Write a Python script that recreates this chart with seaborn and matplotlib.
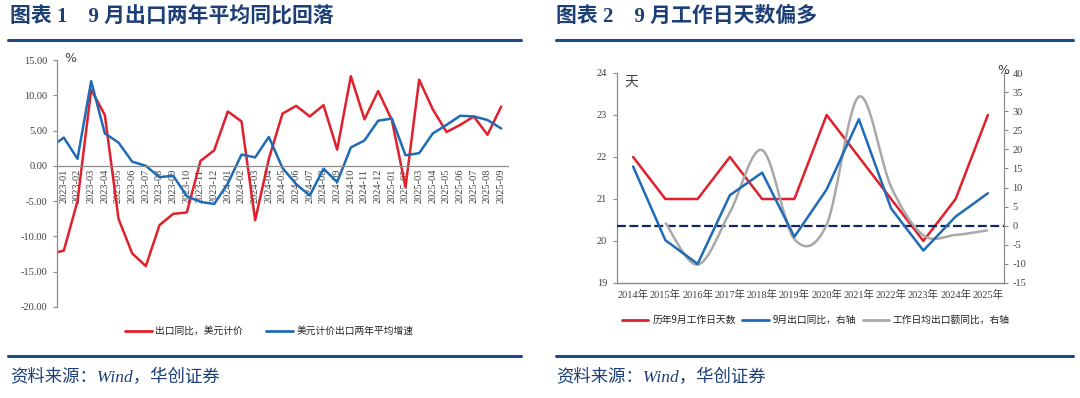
import numpy as np
import pandas as pd
import seaborn as sns
import matplotlib.pyplot as plt
from matplotlib.path import Path
from matplotlib.patches import PathPatch
from matplotlib.lines import Line2D

# ---- data, chart 1 (first entry 2022-12 sits just off the left edge)
months = ['2022-12',
          '2023-01', '2023-02', '2023-03', '2023-04', '2023-05', '2023-06',
          '2023-07', '2023-08', '2023-09', '2023-10', '2023-11', '2023-12',
          '2024-01', '2024-02', '2024-03', '2024-04', '2024-05', '2024-06',
          '2024-07', '2024-08', '2024-09', '2024-10', '2024-11', '2024-12',
          '2025-01', '2025-02', '2025-03', '2025-04', '2025-05', '2025-06',
          '2025-07', '2025-08', '2025-09']
export_yoy = [-12.5,
              -12.0, -5.0, 10.8, 7.2, -7.5, -12.4, -14.2, -8.4, -6.8, -6.6, 0.7, 2.2,
              7.7, 6.3, -7.7, 1.0, 7.4, 8.5, 7.0, 8.6, 2.3, 12.7, 6.6, 10.6,
              6.5, -3.0, 12.2, 8.0, 4.8, 5.8, 7.0, 4.4, 8.4]
export_2y_avg = [2.6,
                 4.0, 1.0, 12.0, 4.6, 3.3, 0.6, 0.0, -1.6, -1.4, -4.3, -5.1, -5.4,
                 -2.5, 1.6, 1.2, 4.1, -0.3, -2.6, -4.2, -0.4, -2.3, 2.6, 3.6, 6.4,
                 6.7, 1.5, 1.8, 4.6, 5.8, 7.1, 7.0, 6.5, 5.3]

# ---- data, chart 2
years = ['2014年', '2015年', '2016年', '2017年', '2018年', '2019年',
         '2020年', '2021年', '2022年', '2023年', '2024年', '2025年']
workdays = [22, 21, 21, 22, 21, 21, 23, 22, 21, 20, 21, 23]
sep_export_yoy = [15.5, -3.8, -10.0, 8.0, 13.9, -2.9, 9.5, 27.9, 4.5, -6.5, 2.4, 8.5]
per_day_yoy = [np.nan, 0.8, -10.2, 3.5, 19.8, -3.5, 0.3, 33.8, 10.2, -2.5, -2.4, -1.2]

RED = '#E0202B'
BLUE = '#1F6BB5'
GRAY = '#A8A8A8'
NAVY = '#1C3F75'
TXT = '#404040'
AX = '#8C8C8C'

sns.set_style('white')
plt.rcParams['font.family'] = ['Liberation Serif', 'Noto Sans CJK SC', 'DejaVu Sans']
plt.rcParams['axes.unicode_minus'] = False
CJK = ['Noto Sans CJK SC', 'DejaVu Sans']
SERIF_CJK = ['Liberation Serif', 'Noto Sans CJK SC']

W, H = 1080, 398
fig = plt.figure(figsize=(W / 100, H / 100), dpi=100)


def fx(px):
    return px / W


def fy(py):
    return 1 - py / H


# ---- headers, rules, sources
for x0, title in [(10, '图表 1    9 月出口两年平均同比回落'),
                  (556, '图表 2    9 月工作日天数偏多')]:
    fig.text(fx(x0), fy(17), title, fontsize=15, fontweight='bold', color=NAVY,
             family=SERIF_CJK, va='center', ha='left')
    fig.text(fx(x0), fy(378), '资料来源：Wind，华创证券', fontsize=12.5, style='italic',
             color=NAVY, family=SERIF_CJK, va='center', ha='left')
for x0, x1 in [(8, 521), (556, 1073)]:
    for yy in (39.5, 356):
        fig.add_artist(Line2D([fx(x0), fx(x1)], [fy(yy), fy(yy)], color='#1F4A85',
                              lw=2.2, transform=fig.transFigure))

# ---- chart 1
df1 = pd.DataFrame({'pos': np.arange(len(months)) - 1, 'month': months,
                    'yoy': export_yoy, 'avg2y': export_2y_avg})
ax = fig.add_axes([fx(57), fy(307), fx(508) - fx(57), fy(60) - fy(307)])
sns.lineplot(data=df1, x='pos', y='yoy', ax=ax, color=RED, lw=1.8)
sns.lineplot(data=df1, x='pos', y='avg2y', ax=ax, color=BLUE, lw=1.8)
ax.set_xlim(-0.5, len(months) - 1.5)
ax.set_ylim(-20, 15)
ax.set_xlabel('')
ax.set_ylabel('')
sns.despine(ax=ax)
ax.spines['bottom'].set_position(('data', 0))
for s in ('left', 'bottom'):
    ax.spines[s].set_color(AX)
    ax.spines[s].set_linewidth(0.9)
ax.set_xticks(df1['pos'][1:])
ax.set_xticklabels(df1['month'][1:], rotation=90, fontsize=7.5, color=TXT)
ax.set_xticks(np.arange(-0.5, len(months) - 1, 1), minor=True)
ax.tick_params(axis='x', which='major', length=0, pad=2)
ax.tick_params(axis='x', which='minor', length=3, color=AX, width=0.8, direction='out')
ax.set_yticks(np.arange(-20, 16, 5))
ax.yaxis.set_major_formatter('{x:.2f}')
ax.tick_params(axis='y', length=3, color=AX, width=0.8, direction='out', labelsize=7.5,
               labelcolor=TXT, pad=4, left=True)
fig.text(fx(64), fy(58), '%', fontsize=9, color=TXT, family=['DejaVu Sans'],
         va='center', ha='left')

h1 = [Line2D([], [], color=RED, lw=2), Line2D([], [], color=BLUE, lw=2)]
fig.legend(h1, ['出口同比，美元计价', '美元计价出口两年平均增速'], loc='center',
           bbox_to_anchor=(fx(269), fy(331)), ncol=2, frameon=False,
           prop={'family': CJK, 'size': 7}, handlelength=2.8, handletextpad=0.3,
           columnspacing=2.4, labelcolor='#222222')

# ---- chart 2
df2 = pd.DataFrame({'pos': np.arange(len(years)), 'year': years, 'days': workdays,
                    'yoy': sep_export_yoy, 'perday': per_day_yoy})
bx = fig.add_axes([fx(617), fy(283), fx(1004) - fx(617), fy(73) - fy(283)])
bx2 = bx.twinx()
bx2.axhline(0, color='#13275A', lw=1.6, ls=(0, (4, 1.6)), zorder=1)
sns.lineplot(data=df2, x='pos', y='days', ax=bx, color=RED, lw=1.8, zorder=3)
sns.lineplot(data=df2, x='pos', y='yoy', ax=bx2, color=BLUE, lw=1.8, zorder=3)

# smoothed line (Excel style curve through the points)
pts = df2.dropna(subset=['perday'])[['pos', 'perday']].to_numpy(dtype=float)
verts = [pts[0]]
codes = [Path.MOVETO]
for i in range(len(pts) - 1):
    p0 = pts[max(i - 1, 0)]
    p1 = pts[i]
    p2 = pts[i + 1]
    p3 = pts[min(i + 2, len(pts) - 1)]
    verts += [p1 + (p2 - p0) / 6, p2 - (p3 - p1) / 6, p2]
    codes += [Path.CURVE4] * 3
bx2.add_patch(PathPatch(Path(verts, codes), fill=False, edgecolor=GRAY, lw=1.8, zorder=2))

bx.set_xlim(-0.5, len(years) - 0.5)
bx.set_ylim(19, 24)
bx2.set_ylim(-15, 40)
for a in (bx, bx2):
    a.set_xlabel('')
    a.set_ylabel('')
    a.spines['top'].set_visible(False)
    for s in ('left', 'right', 'bottom'):
        a.spines[s].set_color(AX)
        a.spines[s].set_linewidth(0.9)
bx.spines['right'].set_visible(False)
bx2.spines['left'].set_visible(False)
bx.set_xticks(df2['pos'])
bx.set_xticklabels(df2['year'], fontsize=7.5, color=TXT, family=SERIF_CJK)
bx.set_xticks(np.arange(-0.5, len(years), 1), minor=True)
bx.tick_params(axis='x', which='major', length=0, pad=5)
bx.tick_params(axis='x', which='minor', length=3, color=AX, width=0.8, direction='out')
bx.set_yticks(range(19, 25))
bx.tick_params(axis='y', length=3, color=AX, width=0.8, direction='out', labelsize=7.5,
               labelcolor=TXT, left=True, pad=4)
bx2.set_yticks(range(-15, 41, 5))
bx2.tick_params(axis='y', length=3, color=AX, width=0.8, direction='out', labelsize=7.5,
                labelcolor=TXT, right=True, pad=3)
fig.text(fx(624), fy(82), '天', fontsize=10, color=TXT, family=CJK, va='center', ha='left')
fig.text(fx(997), fy(70), '%', fontsize=9, color=TXT, family=['DejaVu Sans'],
         va='center', ha='left')

h2 = [Line2D([], [], color=RED, lw=2), Line2D([], [], color=BLUE, lw=2),
      Line2D([], [], color=GRAY, lw=2)]
fig.legend(h2, ['历年9月工作日天数', '9月出口同比，右轴', '工作日均出口额同比，右轴'],
           loc='center', bbox_to_anchor=(fx(816), fy(320)), ncol=3, frameon=False,
           prop={'family': CJK, 'size': 7}, handlelength=2.7, handletextpad=0.4,
           columnspacing=0.7, labelcolor='#222222')

fig.savefig('out.png', dpi=100, facecolor='white')
